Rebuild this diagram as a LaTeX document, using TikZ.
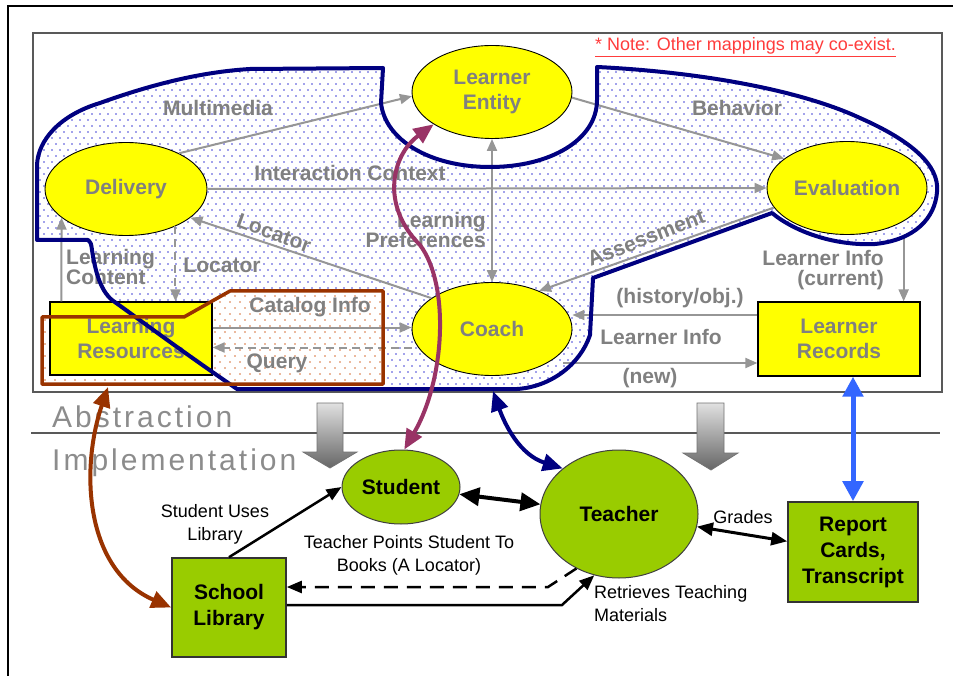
\documentclass[tikz,border=0pt]{standalone}
\usepackage{fontspec}
\setmainfont{Liberation Sans}
\newfontfamily\spacedfont[LetterSpace=10]{Liberation Sans}
\usetikzlibrary{arrows.meta,shapes.geometric,calc}

\definecolor{labgray}{RGB}{128,128,128}
\definecolor{arrgray}{RGB}{150,150,150}
\definecolor{biggray}{RGB}{140,140,140}
\definecolor{yel}{RGB}{255,255,0}
\definecolor{lime}{RGB}{153,204,0}
\definecolor{navyblue}{RGB}{0,0,128}
\definecolor{rust}{RGB}{153,51,0}
\definecolor{plum}{RGB}{153,51,102}
\definecolor{sky}{RGB}{51,102,255}
\definecolor{notered}{RGB}{255,60,60}
\definecolor{dotblue}{RGB}{70,70,215}
\definecolor{dotrust}{RGB}{215,115,60}

\newcommand\absfont{\fontsize{21}{25}\selectfont\bfseries}
\newcommand\lblfont{\fontsize{21}{20}\selectfont\bfseries}
\newcommand\impfont{\fontsize{21}{26}\selectfont\bfseries}
\newcommand\btxtfont{\fontsize{18}{23}\selectfont}

\begin{document}
\begin{tikzpicture}[x=1pt,y=-1pt,
  every node/.style={inner sep=0pt},
  absell/.style={ellipse, draw=black, line width=0.9pt, fill=yel,
    minimum width=160pt, minimum height=93pt, text=labgray, font=\absfont, align=center},
  absbox/.style={rectangle, draw=black, line width=1.3pt, fill=yel,
    minimum width=162pt, minimum height=74pt, text=labgray, font=\absfont, align=center},
  impell/.style={ellipse, draw=black!75, line width=1pt, fill=lime, font=\impfont, align=center},
  impbox/.style={rectangle, draw=black!80, line width=1.6pt, fill=lime, font=\impfont, align=center},
  lbl/.style={text=labgray, font=\lblfont, align=center},
  btxt/.style={text=black, font=\btxtfont, align=center},
  garrow/.style={draw=arrgray, line width=2pt, -{Triangle[length=12pt,width=10pt]}},
  gdouble/.style={draw=arrgray, line width=2pt,
    {Triangle[length=12pt,width=10pt]}-{Triangle[length=12pt,width=10pt]}},
  gdash/.style={dash pattern=on 8pt off 5pt},
  maparrow/.style={draw=#1, line width=4pt,
    {Triangle[length=20pt,width=17pt]}-{Triangle[length=20pt,width=17pt]}},
  bkarrow/.style={draw=black, line width=2.5pt, -{Triangle[length=15pt,width=12pt]}},
  blockarrow/.style={draw=black!55, line width=0.8pt, top color=black!12, bottom color=black!60},
]
\useasboundingbox (0,0) rectangle (953,676);
\fill[white] (0,0) rectangle (953,676);

% outer frame and abstraction panel
\draw[line width=2pt] (8,676) -- (8,6) -- (953,6);
\draw[draw=black!65, line width=2pt] (33,33) rectangle (942,392);

% dotted screen of the blue mapping region
\begin{scope}
\clip
  (37,240) -- (37,165) .. controls (38,140) and (60,115) .. (100,103)
  .. controls (150,85) and (200,72) .. (250,69) -- (383,68) -- (381,103)
  .. controls (385,140) and (430,167) .. (490,167)
  .. controls (550,167) and (597,140) .. (597,100) -- (597,67)
  .. controls (700,72) and (800,90) .. (860,118)
  .. controls (910,140) and (940,165) .. (937,192)
  .. controls (935,218) and (915,240) .. (875,244)
  .. controls (835,246) and (795,232) .. (772,213) -- (593,278) -- (590,335)
  .. controls (580,365) and (550,387) .. (517,389) -- (237,389)
  .. controls (180,350) and (140,320) .. (112,300)
  .. controls (100,290) and (95,270) .. (92,250)
  .. controls (91,243) .. (88,240) -- cycle;
\foreach \r in {0,...,54}
  \foreach \c in {0,...,113}
    \fill[dotblue] ({36+8*\c+4*mod(\r,2)},{66+6*\r}) circle (0.95);
\end{scope}

% dotted screen of the brown mapping region
\fill[white] (42,317) -- (184,317) -- (230,291) -- (383,291) -- (383,384) -- (42,384) -- cycle;
\begin{scope}
\clip (42,317) -- (184,317) -- (230,291) -- (383,291) -- (383,384) -- (42,384) -- cycle;
\foreach \r in {0,...,16}
  \foreach \c in {0,...,35}
    \fill[dotrust] ({40+10*\c+5*mod(\r,2)},{290+6*\r}) circle (0.95);
\end{scope}

% abstraction components
\node[absell] (le) at (492,92) {Learner\\Entity};
\node[absell, minimum width=162pt] (del) at (126,189) {Delivery};
\node[absell] (eva) at (847,188) {Evaluation};
\node[absell] (coach) at (492,329) {Coach};
\node[absbox, minimum height=73pt] (lr) at (131,338.5) {Learning\\Resources};
\node[absbox] (rec) at (839,339) {Learner\\Records};

% abstraction flows
\draw[garrow] (del.34) -- (le.183);
\draw[garrow] (le.356) -- (eva.155);
\draw[garrow] (del.east) -- (eva.west);
\draw[garrow] (coach.153) -- (del.336);
\draw[gdouble] (coach.north) -- (le.south);
\draw[garrow] (eva.195) -- (coach.39);
\draw[garrow] ([xshift=12pt]lr.north west) -- (del.204);
\draw[garrow, gdash] (del.323) -- (del.323 |- lr.north);
\coordinate (cat) at ([yshift=11pt]lr.east);
\coordinate (qry) at ([yshift=-9pt]lr.east);
\draw[garrow] (cat) -- (cat -| coach.west);
\draw[garrow, gdash] (qry -| coach.west) -- (qry);
\coordinate (hist) at ([yshift=24pt]rec.west);
\coordinate (newend) at ([yshift=-24pt]rec.west);
\path (newend -| coach.east) ++(-9,0) coordinate (newstart);
\draw[garrow] (hist) -- (hist -| coach.east);
\draw[garrow] (newstart) -- (newend);
\coordinate (curend) at ([xshift=-17pt]rec.north east);
\draw[garrow] (curend |- eva.south) -- (curend);

% flow labels
\node[lbl] (tMulti) at (218,108) {Multimedia};
\node[lbl] (tBeh) at (737,108) {Behavior};
\node[lbl] (tInter) at (350,173) {Interaction Context};
\node[lbl, rotate=-20] (tLoc1) at (274,233) {Locator};
\node[lbl, align=right, anchor=east] (tPref) at (486,230) {Learning\\Preferences};
\node[lbl, rotate=21] (tAss) at (646,238) {Assessment};
\node[lbl, align=left, anchor=west] (tLC) at (66,267) {Learning\\Content};
\node[lbl] (tLoc2) at (222,265) {Locator};
\node[lbl] (tCat) at (310,307) {Catalog Info};
\node[lbl] (tQuery) at (277,363) {Query};
\node[lbl] (tHist) at (680,298) {(history/obj.)};
\node[lbl] (tLInfo) at (661,337) {Learner Info};
\node[lbl] (tNew) at (650,378) {(new)};
\node[lbl, align=right, anchor=east] (tCur) at (884,270) {Learner Info\\(current)};

\node[anchor=west, text=notered, font=\fontsize{18}{20}\selectfont] (note) at (595,47)
  {\underline{* Note: Other mappings may co-exist.}};

% mapping outlines
\draw[draw=navyblue, line width=4pt, line join=round]
  (37,240) -- (37,165) .. controls (38,140) and (60,115) .. (100,103)
  .. controls (150,85) and (200,72) .. (250,69) -- (383,68) -- (381,103)
  .. controls (385,140) and (430,167) .. (490,167)
  .. controls (550,167) and (597,140) .. (597,100) -- (597,67)
  .. controls (700,72) and (800,90) .. (860,118)
  .. controls (910,140) and (940,165) .. (937,192)
  .. controls (935,218) and (915,240) .. (875,244)
  .. controls (835,246) and (795,232) .. (772,213) -- (593,278) -- (590,335)
  .. controls (580,365) and (550,387) .. (517,389) -- (237,389)
  .. controls (180,350) and (140,320) .. (112,300)
  .. controls (100,290) and (95,270) .. (92,250)
  .. controls (91,243) .. (88,240) -- cycle;
\draw[draw=rust, line width=3.5pt, line join=round]
  (42,317) -- (184,317) -- (230,291) -- (383,291) -- (383,384) -- (42,384) -- cycle;

% abstraction / implementation divider
\draw[draw=black!65, line width=1.5pt] (31,433) -- (940,433);
\node[anchor=base west, text=biggray, font=\spacedfont\fontsize{30}{32}\selectfont] (tAbs) at (52,427) {Abstraction};
\node[anchor=base west, text=biggray, font=\spacedfont\fontsize{30}{32}\selectfont] (tImp) at (52,470) {Implementation};

% realisation arrows
\draw[blockarrow] (317,403) -- (343,403) -- (343,452) -- (357,452) -- (330,468) -- (303,452) -- (317,452) -- cycle;
\draw[blockarrow] (697,403) -- (724,403) -- (724,453) -- (738,453) -- (711,470) -- (683,453) -- (697,453) -- cycle;

% implementation components
\node[impell, minimum width=118pt, minimum height=74pt] (stu) at (401,487) {Student};
\node[impell, minimum width=158pt, minimum height=128pt] (tea) at (619,514) {Teacher};
\node[impbox, minimum width=114pt, minimum height=99pt] (lib) at (229,607.5) {School\\Library};
\node[impbox, minimum width=130pt, minimum height=100pt] (rep) at (853,552) {Report\\Cards,\\Transcript};

% implementation flows
\draw[draw=black, line width=4pt,
  {Triangle[length=20pt,width=18pt]}-{Triangle[length=20pt,width=18pt]}] (stu) -- (tea);
\draw[draw=black, line width=3pt,
  {Triangle[length=16pt,width=13pt]}-{Triangle[length=16pt,width=13pt]}] (tea) -- (rep);
\draw[bkarrow] (lib.north) -- (stu.west);
\coordinate (tbend) at (548,587);
\draw[bkarrow, dash pattern=on 14pt off 9pt] (tea.232) -- (tbend) -- (tbend -| lib.east);
\coordinate (rbend) at (562,605);
\draw[bkarrow] (rbend -| lib.east) -- (rbend) -- (tea.248);

\node[btxt] (tUses) at (215,524) {Student Uses\\Library};
\node[btxt] (tPoints) at (409,555) {Teacher Points Student To\\Books (A Locator)};
\node[btxt] (tGrades) at (743,517) {Grades};
\node[btxt, align=left, anchor=west] (tRetr) at (594,604) {Retrieves Teaching\\Materials};

% mappings between the two levels
\coordinate (blueedge) at (493,391);
\coordinate (brownedge) at (108,387);
\draw[maparrow=plum] (le.209) .. controls (392,155) and (380,205) .. (420,245)
  .. controls (450,285) and (445,380) .. (stu.85);
\draw[maparrow=navyblue] (blueedge) .. controls (505,425) and (520,455) .. (tea.141);
\draw[maparrow=rust] (brownedge) .. controls (80,470) and (85,570) .. (lib.west);
\draw[draw=sky, line width=5pt,
  {Triangle[length=20pt,width=20pt]}-{Triangle[length=20pt,width=20pt]}] (rec.south -| rep.north) -- (rep.north);
\end{tikzpicture}
\end{document}
